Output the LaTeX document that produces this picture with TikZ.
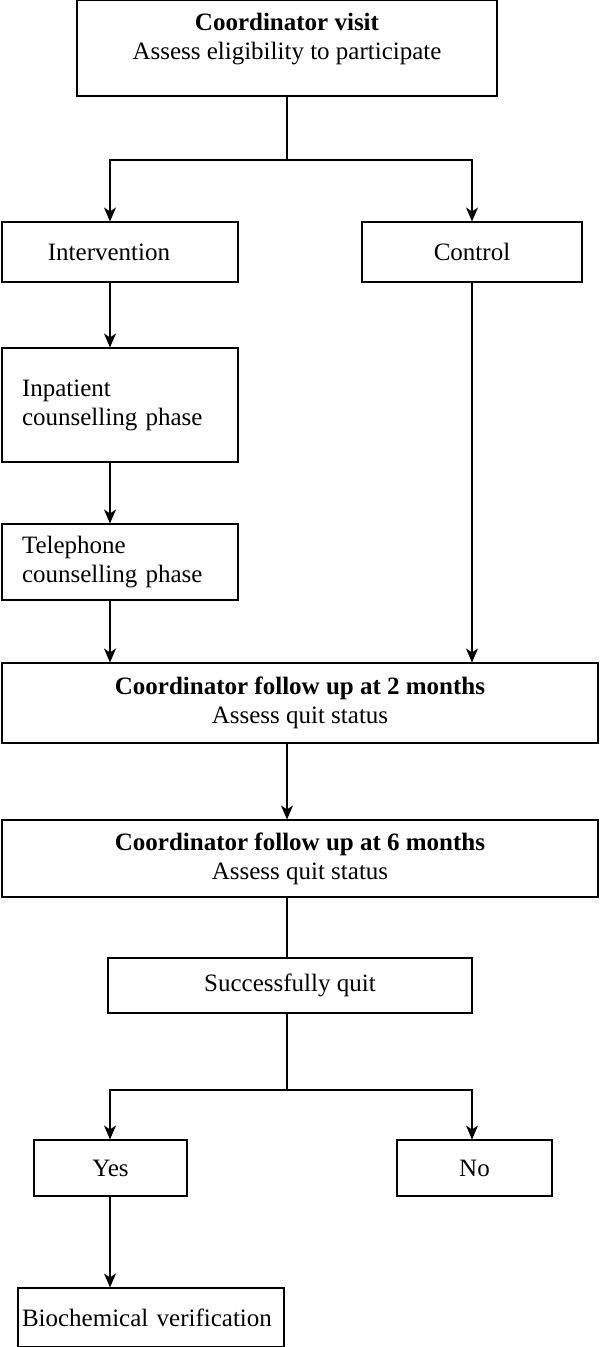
\documentclass[tikz,border=0pt]{standalone}
\usepackage{fontspec}
\setmainfont{Liberation Serif}
\usetikzlibrary{arrows.meta}
\begin{document}
\begin{tikzpicture}[x=1pt, y=-1pt, line width=1.1pt, >={Stealth[length=14pt, width=12pt, inset=4pt]},
        font=\fontsize{25}{29}\selectfont,
        box/.style={draw, inner sep=0pt, align=center},
        phase/.style={box, align=left, text width=196pt, minimum width=236pt}]
            \useasboundingbox (0,0) rectangle (600,1347);
            \coordinate (leftc) at (110,0);
            \coordinate (midc) at (287,0);
            \coordinate (rightc) at (472,0);
            \coordinate (split1) at (287,160);
            \coordinate (split2) at (287,1090);
            \node[box, minimum width=420pt, minimum height=96pt] (visit) at (287,48) {};
            \node[align=center] (visittext) at (287,39) {\textbf{Coordinator visit}\\Assess eligibility to participate};
            \node[box, minimum width=236pt, minimum height=60pt] (interv) at (120,252) {Intervention\hspace*{22pt}};
            \node[box, minimum width=220pt, minimum height=60pt] (control) at (472,252) {Control};
            \node[phase, minimum height=114pt] (inpat) at (120,405) {Inpatient\\counselling phase};
            \node[phase, minimum height=76pt] (tel) at (120,562) {Telephone\\counselling phase};
            \node[box, minimum width=596pt, minimum height=80pt] (fu2) at (300,703) {\textbf{Coordinator follow up at 2 months}\\Assess quit status};
            \node[box, minimum width=596pt, minimum height=77pt] (fu6) at (300,858.5) {\textbf{Coordinator follow up at 6 months}\\Assess quit status};
            \node[box, minimum width=364pt, minimum height=55pt] (quit) at (290,985.5) {Successfully quit};
            \node[box, minimum width=153pt, minimum height=56pt] (yes) at (110.5,1168) {Yes};
            \node[box, minimum width=155pt, minimum height=56pt] (no) at (474.5,1168) {No};
            \node[box, align=left, text width=258pt, minimum width=266pt, minimum height=59pt] (bio) at (151,1317.5) {Biochemical verification};
            \draw (visit.south) -- (split1);
            \draw[->] (split1) -| (interv.north -| leftc);
            \draw[->] (split1) -| (control.north -| rightc);
            \draw[->] (interv.south -| leftc) -- (inpat.north -| leftc);
            \draw[->] (inpat.south -| leftc) -- (tel.north -| leftc);
            \draw[->] (tel.south -| leftc) -- (fu2.north -| leftc);
            \draw[->] (control.south -| rightc) -- (fu2.north -| rightc);
            \draw[->] (fu2.south -| midc) -- (fu6.north -| midc);
            \draw (fu6.south -| midc) -- (quit.north -| midc);
            \draw (quit.south -| midc) -- (split2);
            \draw[->] (split2) -| (yes.north -| leftc);
            \draw[->] (split2) -| (no.north -| rightc);
            \draw[->] (yes.south -| leftc) -- (bio.north -| leftc);
        \end{tikzpicture}
\end{document}
